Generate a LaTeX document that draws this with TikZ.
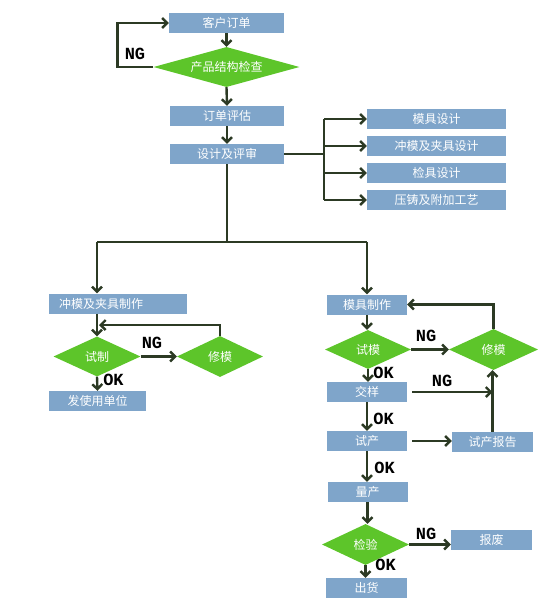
\documentclass[tikz,border=0pt]{standalone}
\usepackage{fontspec}
\setmainfont{Noto Sans CJK SC}
\newfontfamily\ngokfont{Liberation Mono}
\usetikzlibrary{positioning,arrows.meta,shapes.geometric}
\definecolor{boxblue}{HTML}{7FA5CA}
\definecolor{passgreen}{HTML}{5DC52A}
\definecolor{linegreen}{HTML}{2C3A24}

\begin{document}
\begin{tikzpicture}[x=1pt, y=-1pt,
    box/.style={fill=boxblue, text=white, minimum width=80pt, minimum height=20pt, inner sep=0pt, font=\fontsize{12}{14}\selectfont},
    decision/.style={diamond, aspect=2.2, fill=passgreen, text=white, inner sep=0pt, minimum width=87pt, minimum height=40pt, font=\fontsize{12}{14}\selectfont},
    arrow/.style={-{Straight Barb[length=5pt,width=10pt]}, line width=2.4pt, draw=linegreen},
    link/.style={line width=2.4pt, draw=linegreen},
    tag/.style={font=\ngokfont\bfseries\fontsize{17}{17}\selectfont, inner sep=0pt}
]
    \useasboundingbox (0,0) rectangle (544,600);

    \node[box, minimum width=115pt] (order) at (226.5,23) {客户订单};
    \node[decision, aspect=3.6, minimum width=146pt] (product) at (226.5,67) {产品结构检查};
    \node[box, minimum width=114pt] (evaluate) at (227,116) {订单评估};
    \node[box, minimum width=114pt] (design) at (227,154) {设计及评审};

    \node[box, minimum width=139pt] (molddes) at (436.5,119) {模具设计};
    \node[box, minimum width=139pt] (punchdes) at (436.5,146) {冲模及夹具设计};
    \node[box, minimum width=139pt] (gaugedes) at (436.5,173) {检具设计};
    \node[box, minimum width=139pt] (castdes) at (436.5,200) {压铸及附加工艺};

    \node[box, text width=118pt, align=left, inner xsep=10pt] (punchmake) at (118,303.5) {冲模及夹具制作};
    \node[decision] (trial) at (97,356.5) {试制};
    \node[decision, minimum width=86pt, minimum height=41pt] (repairL) at (220,356.5) {修模};
    \node[box, minimum width=97pt] (deliver) at (97.5,401) {发使用单位};

    \node[box] (moldmake) at (367,304.5) {模具制作};
    \node[decision, minimum width=86pt, minimum height=39pt] (trymold) at (368,349.5) {试模};
    \node[decision, minimum width=89pt, minimum height=41pt] (repairR) at (493.5,349.5) {修模};
    \node[box] (sample) at (367,392) {交样};
    \node[box] (pilot) at (367,441) {试产};
    \node[box, minimum width=81pt] (report) at (492.5,442) {试产报告};
    \node[box] (mass) at (367.5,492) {量产};
    \node[decision, minimum height=41pt] (inspect) at (365.5,544.5) {检验};
    \node[box, minimum width=81pt] (scrap) at (491.5,539.5) {报废};
    \node[box, minimum width=81pt] (ship) at (366.5,588) {出货};

    \node[tag] (ngorder) at (135,54) {NG};
    \node[tag] (ngtrial) at (152,343) {NG};
    \node[tag] (oktrial) at (113.5,380) {OK};
    \node[tag] (ngmold) at (426,336) {NG};
    \node[tag] (okmold) at (383.5,373) {OK};
    \node[tag] (ngsample) at (442,381) {NG};
    \node[tag] (oksample) at (383.5,419) {OK};
    \node[tag] (okpilot) at (384.5,468) {OK};
    \node[tag] (nginspect) at (426,533.5) {NG};
    \node[tag] (okinspect) at (385.5,564.5) {OK};

    \coordinate (fork) at (324,154);
    \coordinate (split) at (227,242);
    \coordinate (splitL) at (97,242);
    \coordinate (splitR) at (367,242);
    \coordinate (backL) at (99,325);

    \draw[arrow] (order.south) -- (product.north);
    \draw[arrow] (product.west) -- ++(-36,0) |- (order.west);
    \draw[arrow] (product.south) -- (evaluate.north);
    \draw[arrow] (evaluate.south) -- (design.north);

    \draw[link] (design.east) -- (fork);
    \draw[link] (fork |- molddes.west) -- (fork |- castdes.west);
    \draw[arrow] (fork |- molddes.west) -- (molddes.west);
    \draw[arrow] (fork |- punchdes.west) -- (punchdes.west);
    \draw[arrow] (fork |- gaugedes.west) -- (gaugedes.west);
    \draw[arrow] (fork |- castdes.west) -- (castdes.west);

    \draw[link] (design.south) -- (split);
    \draw[link] (splitL) -- (splitR);
    \draw[arrow] (splitL) -- (splitL |- punchmake.north);
    \draw[arrow] (splitR) -- (moldmake.north);

    \draw[arrow] (splitL |- punchmake.south) -- (trial.north);
    \draw[arrow] (trial.east) -- (repairL.west);
    \draw[arrow] (repairL.north) |- (backL);
    \draw[arrow] (trial.south) -- (deliver.north);

    \draw[arrow] (moldmake.south) -- (moldmake.south |- trymold.north);
    \draw[arrow] (trymold.east) -- (repairR.west);
    \draw[arrow] (repairR.north) |- (moldmake.east);
    \draw[arrow] (trymold.south) -- (trymold.south |- sample.north);
    \draw[arrow, shorten <=5pt] (sample.east) -- (sample.east -| report.north);
    \draw[arrow] (sample.south) -- (pilot.north);
    \draw[arrow, shorten <=5pt] (pilot.east) -- (pilot.east -| report.west);
    \draw[arrow] (report.north) -- (report.north |- repairR.south);
    \draw[arrow] (pilot.south) -- (pilot.south |- mass.north);
    \draw[arrow] (mass.south) -- (mass.south |- inspect.north);
    \draw[arrow] (inspect.east) -- (inspect.east -| scrap.west);
    \draw[arrow] (inspect.south) -- (inspect.south |- ship.north);
\end{tikzpicture}
\end{document}
